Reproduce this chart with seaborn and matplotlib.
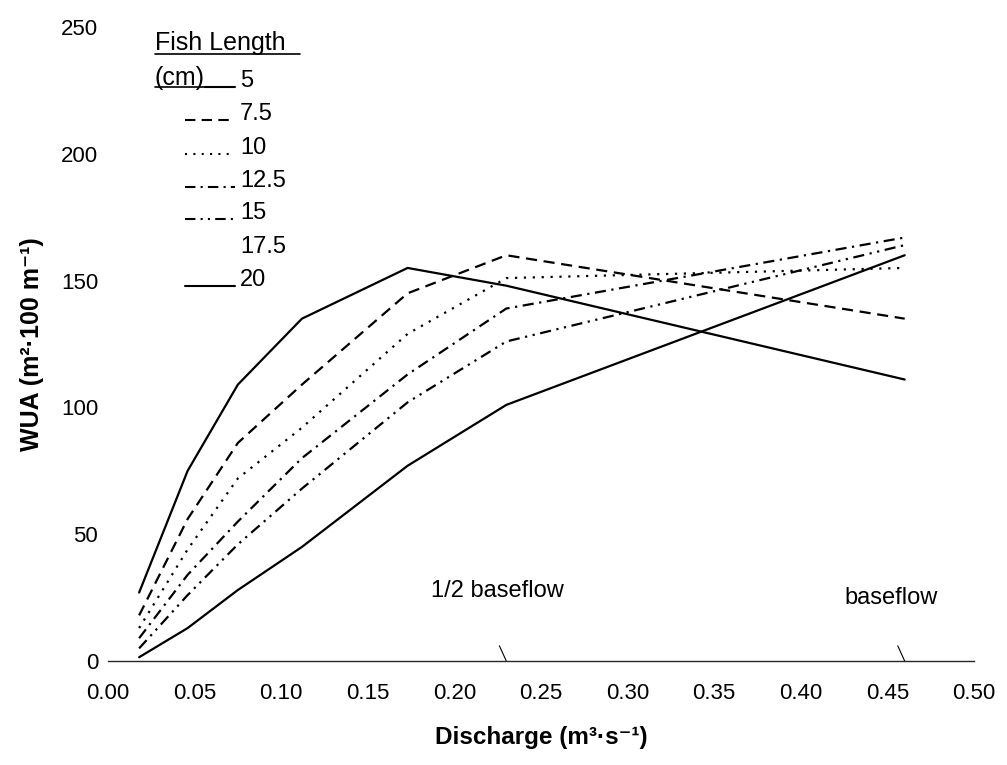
import pandas as pd
import matplotlib.pyplot as plt
import seaborn as sns
from matplotlib.lines import Line2D

# === DATOS ===
discharge = [0.018, 0.046, 0.075, 0.112, 0.173, 0.23, 0.46]
wua_5 = [27, 75, 109, 135, 155, 148, 111]
wua_7_5 = [18, 56, 86, 109, 145, 160, 135]
wua_10 = [13, 44, 72, 92, 129, 151, 155]
wua_12_5 = [9, 34, 55, 80, 113, 139, 167]
wua_15 = [5, 26, 46, 68, 102, 126, 164]
wua_20 = [1.5, 13, 28, 45, 77, 101, 160]

lengths = ["5", "7.5", "10", "12.5", "15", "17.5", "20"]
series = {"5": wua_5, "7.5": wua_7_5, "10": wua_10, "12.5": wua_12_5,
          "15": wua_15, "20": wua_20}
baseflow = 0.46
half_baseflow = 0.23

x_ticks = [0.00, 0.05, 0.10, 0.15, 0.20, 0.25, 0.30, 0.35, 0.40, 0.45, 0.50]
y_ticks = [0, 50, 100, 150, 200, 250]

# estilos de linea (17.5 no tiene linea visible en el original)
dash_styles = {"5": "", "7.5": (5, 3), "10": (1, 3), "12.5": (5, 2.5, 1, 2.5),
               "15": (5, 2.5, 1, 2.5, 1, 2.5), "17.5": (0, 100), "20": ""}

rows = []
for k, vals in series.items():
    for q, w in zip(discharge, vals):
        rows.append({"Discharge": q, "WUA": w, "Length": k})
df = pd.DataFrame(rows)

# === ESTILO ===
sns.set_style("white")
plt.rcParams['font.family'] = ['Liberation Sans', 'DejaVu Sans']
plt.rcParams['text.color'] = 'black'
plt.rcParams['axes.labelcolor'] = 'black'
plt.rcParams['xtick.color'] = 'black'
plt.rcParams['ytick.color'] = 'black'

fig = plt.figure(figsize=(10.07, 7.65), dpi=100)
ax = fig.add_axes([0.1072, 0.1359, 0.8600, 0.8288])

sns.lineplot(data=df, x="Discharge", y="WUA", hue="Length", style="Length",
             palette={k: "black" for k in series}, dashes={k: dash_styles[k] for k in series},
             linewidth=1.6, legend=False, ax=ax)

ax.set_xlim(0, 0.5)
ax.set_ylim(0, 250)
ax.set_xticks(x_ticks)
ax.set_xticklabels([f"{v:.2f}" for v in x_ticks])
ax.set_yticks(y_ticks)
ax.tick_params(axis="x", length=0, pad=16, labelsize=16)
ax.tick_params(axis="y", direction="in", length=9, width=1.0, pad=7, labelsize=16)
for s in ["top", "right", "left"]:
    ax.spines[s].set_visible(False)
ax.spines["bottom"].set_linewidth(1.0)

ax.set_xlabel("Discharge (m³·s⁻¹)", fontsize=17.5, fontweight="bold", labelpad=16)
ax.set_ylabel("WUA (m²·100 m⁻¹)", fontsize=18, fontweight="bold", labelpad=12)

# === MARCAS DE CAUDAL BASE ===
for q in [half_baseflow, baseflow]:
    ax.plot([q - 0.004, q], [6, 0], color="black", lw=0.8, clip_on=False)
ax.text(half_baseflow - 0.005, 27.5, "1/2 baseflow", fontsize=17, ha="center", va="center")
ax.text(baseflow - 0.008, 25, "baseflow", fontsize=17, ha="center", va="center")

# === LEYENDA MANUAL ===
W, H = 1007, 765
def fx(px):
    return px / W
def fy(py):
    return 1 - py / H

fig.text(fx(155), fy(43), "Fish Length", fontsize=18, ha="left", va="center")
fig.add_artist(Line2D([fx(155), fx(300)], [fy(54), fy(54)], color="black", lw=1.2))
fig.text(fx(155), fy(78), "(cm)", fontsize=18, ha="left", va="center")
fig.add_artist(Line2D([fx(155), fx(205)], [fy(87), fy(87)], color="black", lw=1.2))

row_y = {"5": 81, "7.5": 114, "10": 148, "12.5": 181, "15": 213, "17.5": 247, "20": 280}
for k in lengths:
    y = row_y[k]
    x0 = 205 if k == "5" else 185
    if k != "17.5":
        ln = Line2D([fx(x0), fx(235)], [fy(y + 6), fy(y + 6)], color="black", lw=1.5)
        if dash_styles[k]:
            ln.set_dashes(dash_styles[k])
        fig.add_artist(ln)
    fig.text(fx(240), fy(y), k, fontsize=17, ha="left", va="center")

plt.savefig("out.png", dpi=100)
